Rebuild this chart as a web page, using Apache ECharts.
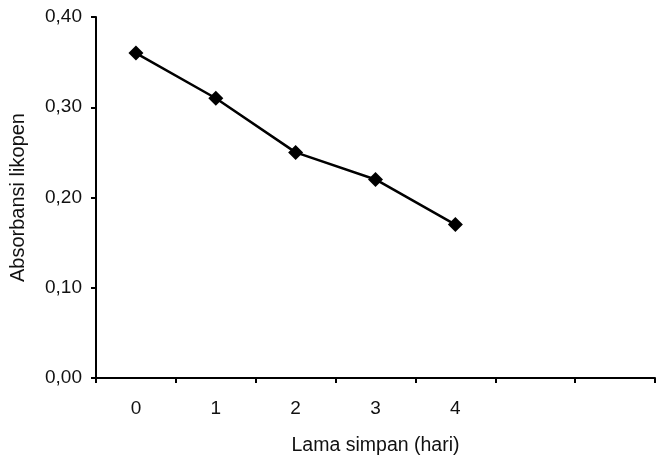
<!DOCTYPE html>
<html><head><meta charset="utf-8">
<script src="https://cdn.jsdelivr.net/npm/echarts@6/dist/echarts.min.js"></script>
<style>html,body{margin:0;padding:0;background:#fff}#c{width:660px;height:462px}</style>
</head><body><div id="c"></div>
<script>
const categories = ['0', '1', '2', '3', '4', '', ''];
const absorbansi = [0.36, 0.31, 0.25, 0.22, 0.17];
const yTicks = [0, 0.1, 0.2, 0.3, 0.4];

const chart = echarts.init(document.getElementById('c'), null, {renderer: 'canvas'});
const font = 'Liberation Sans, Arial, sans-serif';
chart.setOption({
  animation: false,
  grid: {left: 96, right: 5, top: 17, bottom: 84},
  xAxis: {
    type: 'category', data: categories, boundaryGap: true,
    name: 'Lama simpan (hari)', nameLocation: 'middle', nameGap: 58,
    nameTextStyle: {color: '#111', fontSize: 19.5, fontFamily: font},
    axisLine: {lineStyle: {color: '#000', width: 2}},
    axisTick: {show: true, length: 5, lineStyle: {color: '#000', width: 2}, alignWithLabel: false},
    axisLabel: {color: '#111', fontSize: 19, fontFamily: font, margin: 21}
  },
  yAxis: {
    type: 'value', min: yTicks[0], max: yTicks[yTicks.length - 1], interval: 0.1,
    name: 'Absorbansi likopen', nameLocation: 'middle', nameGap: 68,
    nameTextStyle: {color: '#111', fontSize: 20, fontFamily: font},
    axisLine: {show: true, lineStyle: {color: '#000', width: 2}},
    axisTick: {show: true, length: 5, lineStyle: {color: '#000', width: 2}},
    splitLine: {show: false},
    axisLabel: {color: '#111', fontSize: 19, fontFamily: font, margin: 14,
      formatter: v => v.toFixed(2).replace('.', ',')}
  },
  series: [{
    type: 'line', data: absorbansi,
    symbol: 'diamond', symbolSize: 15,
    lineStyle: {color: '#000', width: 2.5},
    itemStyle: {color: '#000'}
  }]
});
</script></body></html>
